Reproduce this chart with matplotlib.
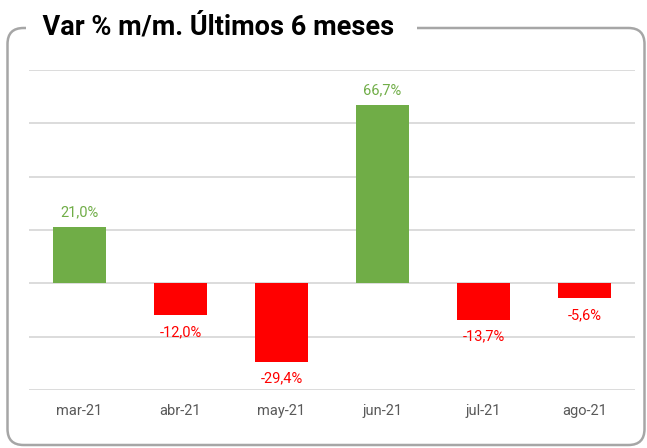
import matplotlib.pyplot as plt
import numpy as np
from matplotlib.patches import FancyBboxPatch

plt.rcParams['font.family'] = ['Roboto', 'DejaVu Sans']

meses = ['mar-21', 'abr-21', 'may-21', 'jun-21', 'jul-21', 'ago-21']
var_pct = [21.0, -12.0, -29.4, 66.7, -13.7, -5.6]

verde = '#70AD47'
rojo = '#FF0000'

fig = plt.figure(figsize=(6.47, 4.48), dpi=100)
ax = fig.add_axes([29/647, 1-390/448, 606/647, 320/448])

x = np.arange(len(meses))
colores = [verde if v >= 0 else rojo for v in var_pct]
ax.bar(x, var_pct, width=0.52, color=colores, zorder=3)

for xi, v, c in zip(x, var_pct, colores):
    txt = f'{v:.1f}%'.replace('.', ',')
    if v >= 0:
        ax.annotate(txt, (xi, v), xytext=(0, 6), textcoords='offset points',
                    ha='center', va='bottom', color=c, fontsize=10.5)
    else:
        ax.annotate(txt, (xi, v), xytext=(0, -7), textcoords='offset points',
                    ha='center', va='top', color=c, fontsize=10.5)

ax.set_xlim(-0.5, len(meses) - 0.5)
ax.set_ylim(-40, 80)
ax.set_yticks(np.arange(-40, 81, 20))
ax.set_yticklabels([])
ax.grid(axis='y', color='#d9d9d9', lw=1.3, zorder=0)
ax.set_xticks(x)
ax.set_xticklabels(meses, color='#595959', fontsize=10.5)
ax.tick_params(axis='x', length=0, pad=10)
ax.tick_params(axis='y', length=0)
for s in ax.spines.values():
    s.set_visible(False)

# marco redondeado
marco = FancyBboxPatch((0.075, 0.03), 6.37, 4.17,
                       boxstyle='round,pad=0,rounding_size=0.16',
                       transform=fig.dpi_scale_trans, fill=False,
                       edgecolor='#a6a6a6', lw=1.8, zorder=0)
fig.patches.append(marco)

fig.text(29/647, 1-27/448, '  Var % m/m. Últimos 6 meses   ', ha='left', va='center',
         fontsize=19.5, fontweight='bold', color='black',
         bbox=dict(facecolor='white', edgecolor='none', pad=2))

fig.savefig('out.png', dpi=100)
